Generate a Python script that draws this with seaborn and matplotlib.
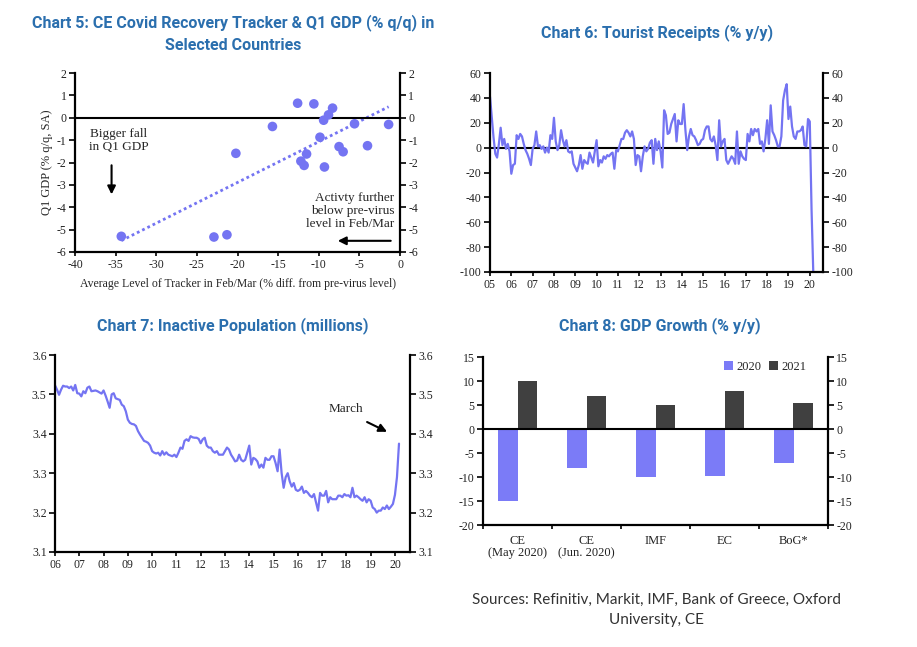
import numpy as np
import pandas as pd
import matplotlib
matplotlib.use("Agg")
import matplotlib.pyplot as plt
import seaborn as sns
from matplotlib import font_manager

sns.set_theme(style="white")
_names = {f.name for f in font_manager.fontManager.ttflist}
TITLE_FONT = "Liberation Sans Narrow" if "Liberation Sans Narrow" in _names else "Roboto"
SERIF = "Liberation Serif"
SANS = "Lato"
plt.rcParams['font.family'] = [SERIF, 'DejaVu Sans']
plt.rcParams['axes.unicode_minus'] = False

TITLE_COLOR = "#2B6FAE"
LINE_COLOR = "#7474F2"
BAR2020 = "#7B7BF7"
BAR2021 = "#404040"

# ---------------- Chart 5 data ----------------
tracker_x = [-12.6, -10.6, -8.3, -8.8, -9.4, -5.6, -1.4, -15.7, -9.85, -4.0,
             -7.5, -7.0, -20.2, -11.5, -12.2, -11.8, -9.3, -34.3, -22.9, -21.3]
gdp_q1 = [0.65, 0.62, 0.43, 0.13, -0.11, -0.27, -0.30, -0.39, -0.87, -1.25,
          -1.29, -1.52, -1.59, -1.62, -1.94, -2.13, -2.20, -5.30, -5.33, -5.23]

# ---------------- Chart 6 data (monthly, Jan 2005 onward) ----------------
t2005 = [41, 25, 8, -5, -8, 3, 16, 2, 7, -1, 3, -3]
t2006 = [-21, -14, -13, 10, 7, 11, 9, 3, -2, -5, -9, -14]
t2007 = [-1, 2, 13, 1, 2, -1, 1, -4, 0, -4, 10, 7]
t2008 = [24, 5, -2, 2, 14, 6, 1, 6, -3, -4, -3, -13]
t2009 = [-16, -19, -14, -6, -17, -10, -12, -13, -4, -8, -12, -3]
t2010 = [6, -15, -10, -12, -7, -9, -6, -7, -5, -4, -17, -2]
t2011 = [-3, 2, 7, 7, 12, 14, 12, 9, 13, 7, -14, -6]
t2012 = [-7, -19, -7, 1, -3, -1, 4, 6, -13, 7, -2, 5]
t2013 = [-3, -16, 30, 26, 11, 12, 19, 23, 27, 5, 22, 19]
t2014 = [19, 35, 14, -2, 9, 15, 10, 9, 6, 2, 3, 6]
t2015 = [7, 14, 17, 17, 7, 5, 9, 2, -10, 22, 1, 5]
t2016 = [7, -10, -13, -10, -7, -9, -13, 13, -13, -3, -7, -9]
t2017 = [-10, 11, 5, 15, 10, 15, 13, 15, 3, 5, -3, 7]
t2018 = [22, 3, 34, 13, 10, 6, 1, 1, 9, 38, 46, 51]
t2019 = [23, 33, 17, 9, 7, 13, 13, 14, 17, 2, 1, 23]
t2020 = [21, -50, -102]
tourist = (t2005 + t2006 + t2007 + t2008 + t2009 + t2010 + t2011 + t2012 +
           t2013 + t2014 + t2015 + t2016 + t2017 + t2018 + t2019 + t2020)
tourist_start = 2005

# ---------------- Chart 7 data (monthly, Jan 2006 onward) ----------------
i2006 = [3.523, 3.512, 3.499, 3.512, 3.522, 3.520, 3.520, 3.516, 3.520, 3.510, 3.524, 3.503]
i2007 = [3.502, 3.495, 3.508, 3.503, 3.517, 3.520, 3.508, 3.509, 3.510, 3.508, 3.505, 3.502]
i2008 = [3.510, 3.497, 3.482, 3.466, 3.500, 3.503, 3.490, 3.488, 3.486, 3.474, 3.470, 3.457]
i2009 = [3.436, 3.428, 3.425, 3.424, 3.420, 3.407, 3.398, 3.390, 3.382, 3.380, 3.377, 3.370]
i2010 = [3.356, 3.352, 3.350, 3.352, 3.345, 3.356, 3.347, 3.353, 3.347, 3.345, 3.343, 3.347]
i2011 = [3.341, 3.352, 3.365, 3.362, 3.382, 3.386, 3.382, 3.394, 3.391, 3.390, 3.390, 3.387]
i2012 = [3.376, 3.386, 3.390, 3.370, 3.365, 3.365, 3.356, 3.352, 3.356, 3.347, 3.347, 3.347]
i2013 = [3.356, 3.365, 3.360, 3.347, 3.339, 3.330, 3.332, 3.347, 3.334, 3.330, 3.334, 3.352]
i2014 = [3.370, 3.322, 3.339, 3.336, 3.330, 3.314, 3.322, 3.314, 3.339, 3.334, 3.334, 3.343]
i2015 = [3.343, 3.326, 3.305, 3.360, 3.300, 3.263, 3.290, 3.300, 3.279, 3.266, 3.275, 3.258]
i2016 = [3.255, 3.258, 3.266, 3.250, 3.255, 3.250, 3.243, 3.239, 3.247, 3.226, 3.205, 3.250]
i2017 = [3.243, 3.243, 3.255, 3.226, 3.239, 3.234, 3.234, 3.234, 3.243, 3.243, 3.239, 3.247]
i2018 = [3.243, 3.244, 3.239, 3.263, 3.239, 3.243, 3.239, 3.234, 3.230, 3.239, 3.226, 3.234]
i2019 = [3.230, 3.213, 3.209, 3.200, 3.205, 3.205, 3.213, 3.209, 3.218, 3.209, 3.215, 3.222]
i2020 = [3.245, 3.290, 3.375]
inactive = (i2006 + i2007 + i2008 + i2009 + i2010 + i2011 + i2012 + i2013 +
            i2014 + i2015 + i2016 + i2017 + i2018 + i2019 + i2020)
inactive_start = 2006

# ---------------- Chart 8 data ----------------
forecasters = ["CE\n(May 2020)", "CE\n(Jun. 2020)", "IMF", "EC", "BoG*"]
gdp_2020 = [-15.0, -8.1, -10.1, -9.7, -7.1]
gdp_2021 = [9.9, 6.9, 5.0, 7.9, 5.4]

# ---------------- Figure ----------------
W, H = 917, 647
fig = plt.figure(figsize=(W / 100, H / 100), dpi=100)


def px_axes(left, top, right, bottom):
    return fig.add_axes([left / W, 1 - bottom / H, (right - left) / W, (bottom - top) / H])


def style_axes(ax, fs=8.5):
    for s in ["left", "right", "bottom"]:
        ax.spines[s].set_visible(True)
        ax.spines[s].set_color("black")
        ax.spines[s].set_linewidth(1.6)
    ax.spines["top"].set_visible(False)
    ax.tick_params(axis="y", which="major", left=True, right=True, labelleft=True,
                   labelright=True, direction="out", length=4, width=1.2,
                   labelsize=fs, colors="black", pad=2)
    ax.tick_params(axis="x", which="major", bottom=True, direction="out", length=3,
                   width=1.2, labelsize=fs, colors="black", pad=2)
    for lab in ax.get_xticklabels() + ax.get_yticklabels():
        lab.set_color("#222222")
    ax.set_facecolor("white")
    ax.grid(False)


def title(x, y, text):
    fig.text(x / W, 1 - y / H, text, ha="center", va="center", color=TITLE_COLOR,
             fontsize=11.5, fontweight="bold", family=[TITLE_FONT, "DejaVu Sans"],
             linespacing=1.6)


# ---- Chart 5 ----
ax5 = px_axes(75, 73, 400, 252)
df5 = pd.DataFrame({"tracker": tracker_x, "gdp": gdp_q1})
sns.regplot(data=df5, x="tracker", y="gdp", ax=ax5, scatter=False, ci=None,
            color=LINE_COLOR, line_kws=dict(linestyle=(0, (1, 1.1)), linewidth=2.0))
sns.scatterplot(data=df5, x="tracker", y="gdp", ax=ax5, color=LINE_COLOR, s=48,
                edgecolor="none", zorder=3)
ax5.axhline(0, color="black", lw=1.5, zorder=2)
ax5.set_xlim(-40, 0)
ax5.set_ylim(-6, 2)
ax5.set_xticks(range(-40, 1, 5))
ax5.set_yticks(range(-6, 3, 1))
ax5.set_xlabel("Average Level of Tracker in Feb/Mar (% diff. from pre-virus level)",
               fontsize=8.5, labelpad=5)
ax5.set_ylabel("Q1 GDP (% q/q, SA)", fontsize=9, labelpad=3)
style_axes(ax5)
ax5.text(-34.6, -1.03, "Bigger fall\nin Q1 GDP", ha="center", va="center", fontsize=9.5,
         linespacing=1.1)
ax5.annotate("", xy=(-35.5, -3.55), xytext=(-35.5, -2.0),
             arrowprops=dict(arrowstyle="-|>", color="black", lw=1.5, mutation_scale=12))
ax5.text(-0.7, -4.17, "Activty further\nbelow pre-virus\nlevel in Feb/Mar", ha="right",
         va="center", fontsize=9.5, linespacing=1.1)
ax5.annotate("", xy=(-8.0, -5.5), xytext=(-0.8, -5.5),
             arrowprops=dict(arrowstyle="-|>", color="black", lw=1.5, mutation_scale=12))
title(233, 33.5, "Chart 5: CE Covid Recovery Tracker & Q1 GDP (% q/q) in\nSelected Countries")

# ---- Chart 6 ----
ax6 = px_axes(490, 73, 823, 272)
df6 = pd.DataFrame({"date": tourist_start + np.arange(len(tourist)) / 12.0,
                    "receipts": tourist})
sns.lineplot(data=df6, x="date", y="receipts", ax=ax6, color=LINE_COLOR, lw=1.6)
ax6.axhline(0, color="black", lw=1.5, zorder=0)
ax6.set_xlim(2005, 2020.62)
ax6.set_ylim(-100, 60)
ax6.set_yticks(range(-100, 61, 20))
years6 = list(range(2005, 2021))
ax6.set_xticks(years6)
ax6.set_xticklabels([f"{y % 100:02d}" for y in years6])
ax6.set_xlabel("")
ax6.set_ylabel("")
style_axes(ax6)
title(657, 33, "Chart 6: Tourist Receipts (% y/y)")

# ---- Chart 7 ----
ax7 = px_axes(55, 355, 410, 552)
df7 = pd.DataFrame({"date": inactive_start + np.arange(len(inactive)) / 12.0,
                    "inactive": inactive})
sns.lineplot(data=df7, x="date", y="inactive", ax=ax7, color=LINE_COLOR, lw=1.6)
ax7.set_xlim(2006, 2020.62)
ax7.set_ylim(3.1, 3.6)
ax7.set_yticks(np.round(np.arange(3.1, 3.61, 0.1), 1))
ax7.set_yticklabels([f"{v:.1f}" for v in np.arange(3.1, 3.61, 0.1)])
years7 = list(range(2006, 2021))
ax7.set_xticks(years7)
ax7.set_xticklabels([f"{y % 100:02d}" for y in years7])
ax7.set_xlabel("")
ax7.set_ylabel("")
style_axes(ax7)
ax7.text(2018.0, 3.463, "March", ha="center", va="center", fontsize=9.5)
ax7.annotate("", xy=(2019.78, 3.402), xytext=(2018.75, 3.433),
             arrowprops=dict(arrowstyle="-|>", color="black", lw=1.5, mutation_scale=12))
title(233, 326, "Chart 7: Inactive Population (millions)")

# ---- Chart 8 ----
ax8 = px_axes(483, 357, 828, 525)
df8 = pd.DataFrame({
    "forecaster": forecasters * 2,
    "year": ["2020"] * len(forecasters) + ["2021"] * len(forecasters),
    "growth": gdp_2020 + gdp_2021,
})
sns.barplot(data=df8, x="forecaster", y="growth", hue="year", ax=ax8,
            palette={"2020": BAR2020, "2021": BAR2021}, width=0.56, saturation=1,
            edgecolor="none", linewidth=0)
ax8.axhline(0, color="black", lw=1.5, zorder=3)
ax8.set_xlim(-0.5, len(forecasters) - 0.5)
ax8.set_ylim(-20, 15)
ax8.set_yticks(range(-20, 16, 5))
ax8.set_xticks(np.arange(-0.5, len(forecasters), 1.0))
ax8.set_xticklabels([])
ax8.set_xticks(np.arange(len(forecasters)), minor=True)
ax8.set_xticklabels(forecasters, minor=True)
ax8.tick_params(axis="x", which="minor", length=0, labelsize=9, pad=7)
ax8.set_xlabel("")
ax8.set_ylabel("")
style_axes(ax8)
for lab in ax8.get_xticklabels(minor=True):
    lab.set_linespacing(1.05)
    lab.set_color("#222222")
leg = ax8.legend(loc="upper right", bbox_to_anchor=(0.96, 1.02), ncol=2, frameon=False,
                 fontsize=9, handlelength=0.7, handleheight=0.7, handletextpad=0.3,
                 columnspacing=0.6, borderaxespad=0.2)
title(660, 326, "Chart 8: GDP Growth (% y/y)")

# ---- Sources ----
fig.text(656 / W, 1 - 600 / H, "Sources: Refinitiv, Markit, IMF, Bank of Greece, Oxford",
         ha="center", va="center", fontsize=11, color="#333333", family=[SANS, "DejaVu Sans"])
fig.text(656 / W, 1 - 620 / H, "University, CE", ha="center", va="center", fontsize=11,
         color="#333333", family=[SANS, "DejaVu Sans"])

fig.savefig("out.png", dpi=100, facecolor="white")
